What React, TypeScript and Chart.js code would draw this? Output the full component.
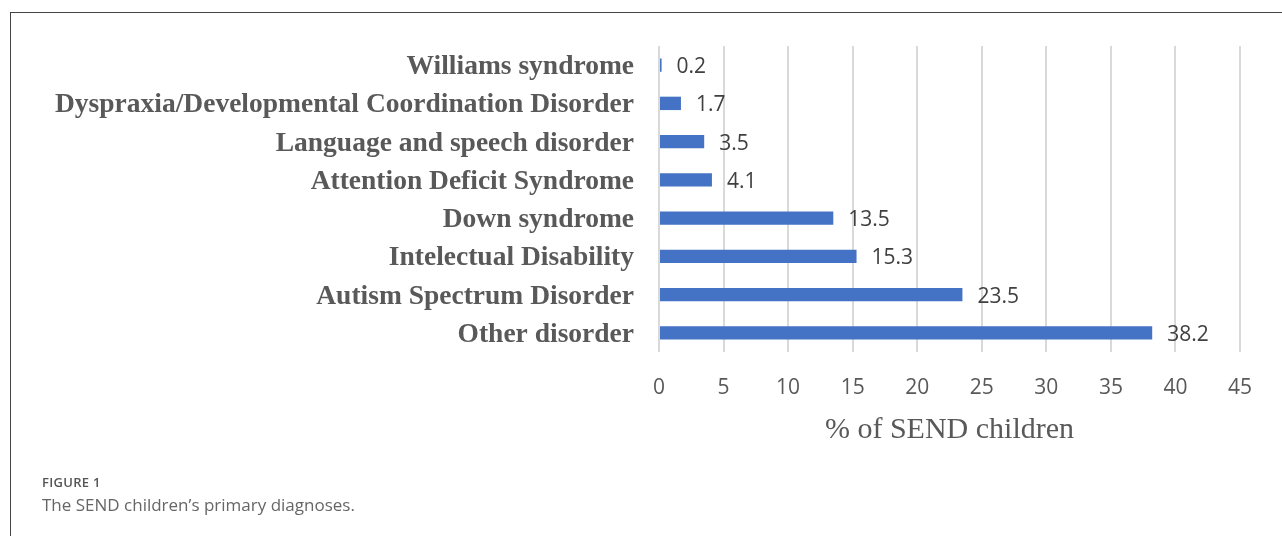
import React, { useEffect, useRef } from "react";
import { Chart, registerables } from "chart.js";

Chart.register(...registerables);

const categories = [
  "Williams syndrome",
  "Dyspraxia/Developmental Coordination Disorder",
  "Language and speech disorder",
  "Attention Deficit Syndrome",
  "Down syndrome",
  "Intelectual Disability",
  "Autism Spectrum Disorder",
  "Other disorder",
];
const percentValues = [0.2, 1.7, 3.5, 4.1, 13.5, 15.3, 23.5, 38.2];
const xMin = 0;
const xMax = 45;
const xStep = 5;
const xTitle = "% of SEND children";
const figureLabel = "FIGURE 1";
const figureCaption = "The SEND children\u2019s primary diagnoses.";

const valueLabelPlugin = {
  id: "valueLabels",
  afterDatasetsDraw(chart: any) {
    const { ctx } = chart;
    const meta = chart.getDatasetMeta(0);
    const data = chart.data.datasets[0].data as number[];
    ctx.save();
    ctx.font = "21px 'Open Sans', sans-serif";
    ctx.fillStyle = "#404040";
    ctx.textAlign = "left";
    ctx.textBaseline = "middle";
    meta.data.forEach((bar: any, i: number) => {
      ctx.fillText(String(data[i]), bar.x + 15, bar.y + 2);
    });
    ctx.restore();
  },
};

export default function App() {
  const canvasRef = useRef<HTMLCanvasElement | null>(null);

  useEffect(() => {
    if (!canvasRef.current) return;
    const chart = new Chart(canvasRef.current, {
      type: "bar",
      data: {
        labels: categories,
        datasets: [
          {
            data: percentValues,
            backgroundColor: "#4472C4",
            borderWidth: 0,
            categoryPercentage: 1,
            barPercentage: 0.35,
          },
        ],
      },
      options: {
        indexAxis: "y",
        animation: false,
        responsive: false,
        maintainAspectRatio: false,
        devicePixelRatio: 1,
        layout: { padding: { top: 46, right: 42, bottom: 88, left: 0 } },
        plugins: {
          legend: { display: false },
          tooltip: { enabled: false },
        },
        scales: {
          x: {
            min: xMin,
            max: xMax,
            border: { display: false },
            grid: { color: "#d9d9d9", lineWidth: 2, drawTicks: false },
            afterFit(scale: any) {
              scale.height = 96;
            },
            ticks: {
              stepSize: xStep,
              padding: 23,
              color: "#595959",
              font: { family: "'Open Sans', sans-serif", size: 21 },
            },
            title: {
              display: true,
              text: xTitle,
              color: "#595959",
              font: { family: "'Liberation Serif', serif", size: 30 },
              padding: { top: 0, bottom: 0 },
            },
          },
          y: {
            border: { display: false },
            grid: { display: false, drawTicks: false },
            afterFit(scale: any) {
              scale.width = 659;
            },
            ticks: {
              padding: 25,
              labelOffset: 2,
              color: "#595959",
              font: { family: "'Liberation Serif', serif", size: 27.5, weight: "bold" },
            },
          },
        },
      },
      plugins: [valueLabelPlugin],
    });
    return () => chart.destroy();
  }, []);

  return (
    <div
      style={{
        position: "absolute",
        left: 0,
        top: 0,
        width: 1282,
        height: 536,
        background: "#fff",
        overflow: "hidden",
      }}
    >
      <div
        style={{
          position: "absolute",
          left: 10,
          top: 12,
          right: 0,
          height: 0,
          borderTop: "1.5px solid #444",
        }}
      />
      <div
        style={{
          position: "absolute",
          left: 10,
          top: 12,
          bottom: 0,
          width: 0,
          borderLeft: "1.5px solid #444",
        }}
      />
      <canvas
        ref={canvasRef}
        width={1282}
        height={536}
        style={{ position: "absolute", left: 0, top: 0, width: 1282, height: 536 }}
      />
      <div
        style={{
          position: "absolute",
          left: 42,
          top: 473,
          fontFamily: "'Open Sans', sans-serif",
          fontSize: 13,
          fontWeight: 600,
          color: "#555",
          letterSpacing: 0.3,
        }}
      >
        {figureLabel}
      </div>
      <div
        style={{
          position: "absolute",
          left: 42,
          top: 493,
          fontFamily: "'Open Sans', sans-serif",
          fontSize: 17,
          color: "#666",
        }}
      >
        {figureCaption}
      </div>
    </div>
  );
}
